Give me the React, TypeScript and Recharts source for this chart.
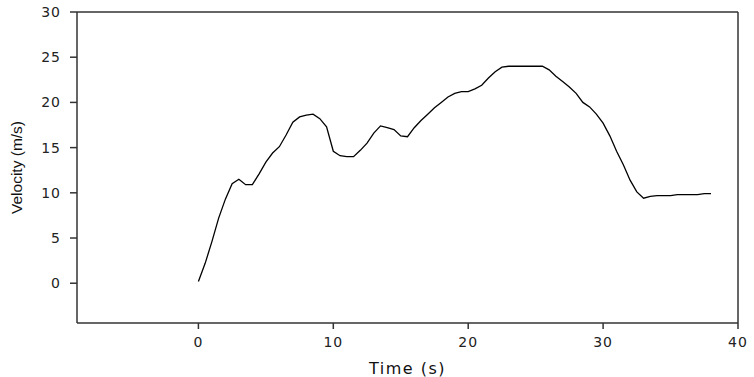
import React from "react";
import { LineChart, Line, XAxis, YAxis, Label, ReferenceLine } from "recharts";

const times = [
  0, 0.5, 1, 1.5, 2, 2.5, 3, 3.5, 4, 4.5, 5, 5.5, 6, 6.5, 7, 7.5, 8, 8.5, 9, 9.5,
  10, 10.5, 11, 11.5, 12, 12.5, 13, 13.5, 14, 14.5, 15, 15.5, 16, 16.5, 17, 17.5,
  18, 18.5, 19, 19.5, 20, 20.5, 21, 21.5, 22, 22.5, 23, 23.5, 24, 24.5, 25, 25.5,
  26, 26.5, 27, 27.5, 28, 28.5, 29, 29.5, 30, 30.5, 31, 31.5, 32, 32.5, 33, 33.5,
  34, 34.5, 35, 35.5, 36, 36.5, 37, 37.5, 38,
];

const velocities = [
  0.2, 2.2, 4.6, 7.2, 9.3, 11.0, 11.5, 10.9, 10.9, 12.1, 13.4, 14.4, 15.1, 16.4,
  17.8, 18.4, 18.6, 18.7, 18.2, 17.3, 14.6, 14.1, 14.0, 14.0, 14.7, 15.5, 16.6,
  17.4, 17.2, 17.0, 16.3, 16.2, 17.2, 18.0, 18.7, 19.4, 20.0, 20.6, 21.0, 21.2,
  21.2, 21.5, 21.9, 22.7, 23.4, 23.9, 24.0, 24.0, 24.0, 24.0, 24.0, 24.0, 23.6,
  22.9, 22.3, 21.7, 21.0, 20.0, 19.5, 18.7, 17.7, 16.3, 14.6, 13.1, 11.4, 10.1,
  9.4, 9.6, 9.7, 9.7, 9.7, 9.8, 9.8, 9.8, 9.8, 9.9, 9.9,
];

const xTicks = [0, 10, 20, 30, 40];
const yTicks = [0, 5, 10, 15, 20, 25, 30];
const xDomain = [-9, 40];
const yDomain = [-4.4, 30];

const data = times.map((t, i) => ({ t, v: velocities[i] }));

const axisColor = "#333";
const tickStyle = {
  fontFamily: "DejaVu Sans",
  fontSize: 14,
  fill: "#222",
  letterSpacing: 1,
};

export default function App() {
  return (
    <div style={{ position: "absolute", left: 0, top: 0, background: "#fff" }}>
      <LineChart
        width={754}
        height={377}
        data={data}
        margin={{ top: 12, right: 16, bottom: 0, left: 0 }}
      >
        <XAxis
          dataKey="t"
          type="number"
          domain={xDomain}
          ticks={xTicks}
          allowDataOverflow
          height={54}
          stroke={axisColor}
          strokeWidth={1.5}
          tickSize={6}
          tickMargin={8}
          tick={tickStyle}
        >
          <Label
            content={({ viewBox }: any) => (
              <text
                x={viewBox.x + viewBox.width / 2}
                y={viewBox.y + 51}
                textAnchor="middle"
                fontFamily="DejaVu Sans"
                fontSize={16}
                letterSpacing={1.5}
                fill="#111"
              >
                Time (s)
              </text>
            )}
          />
        </XAxis>
        <YAxis
          type="number"
          domain={yDomain}
          ticks={yTicks}
          allowDataOverflow
          width={77}
          stroke={axisColor}
          strokeWidth={1.5}
          tickSize={7}
          tickMargin={9}
          tick={tickStyle}
        >
          <Label
            content={({ viewBox }: any) => (
              <text
                x={16}
                y={viewBox.y + viewBox.height / 2}
                transform={`rotate(-90 16 ${viewBox.y + viewBox.height / 2})`}
                textAnchor="middle"
                dominantBaseline="central"
                fontFamily="Liberation Sans"
                fontSize={15.5}
                fill="#111"
              >
                Velocity (m/s)
              </text>
            )}
          />
        </YAxis>
        <ReferenceLine y={yDomain[1]} stroke={axisColor} strokeWidth={1.5} />
        <ReferenceLine x={xDomain[1]} stroke={axisColor} strokeWidth={1.5} />
        <Line
          dataKey="v"
          type="linear"
          stroke="#000"
          strokeWidth={1.3}
          dot={false}
          isAnimationActive={false}
        />
      </LineChart>
    </div>
  );
}
